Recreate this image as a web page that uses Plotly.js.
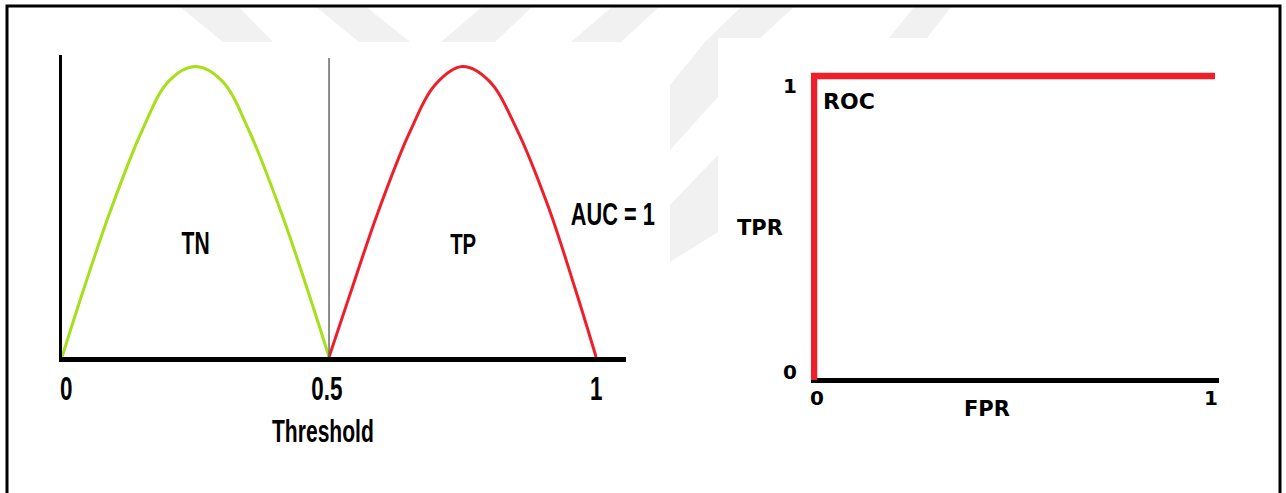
<!DOCTYPE html>
<html>
<head>
<meta charset="utf-8">
<script src="https://cdn.plot.ly/plotly-3.0.1.min.js"></script>
<style>
  html, body { margin: 0; padding: 0; background: #ffffff; }
  #chart { width: 1286px; height: 493px; }
</style>
</head>
<body>
<div id="chart"></div>
<script>
// Score distributions on the threshold axis
const tnX = [0, 0.04, 0.09, 0.15, 0.20, 0.25, 0.30, 0.35, 0.41, 0.46, 0.5];
const tnY = [0, 0.23, 0.50, 0.78, 0.95, 1.0, 0.95, 0.78, 0.50, 0.23, 0];
const tpX = [0.5, 0.54, 0.59, 0.65, 0.70, 0.75, 0.80, 0.85, 0.91, 0.96, 1.0];
const tpY = [0, 0.22, 0.49, 0.77, 0.94, 1.0, 0.95, 0.79, 0.52, 0.24, 0];
const thresholdCut = 0.5;
const thresholdTicks = [0, 0.5, 1];
const thresholdTickText = ['0', '0.5', '1'];

// Perfect ROC curve
const fpr = [0, 0, 1];
const tpr = [0, 1, 1];
const rocTicks = [0, 1];
const aucValue = 1;

const W = 1286, H = 493;
const px = v => v / W;
const py = v => 1 - v / H;

const tall = 'Liberation Sans, Arial, sans-serif';
const wide = 'DejaVu Sans, Verdana, sans-serif';
const GREEN = '#a6e01c';
const RED = '#ee1f2b';
const SQUEEZE = 0.68;   // horizontal squeeze for the condensed labels

// light diagonal background bands
function band(points) {
  return {
    type: 'path', xref: 'paper', yref: 'paper', layer: 'below',
    path: 'M' + points.map(p => px(p[0]) + ',' + py(p[1])).join(' L') + ' Z',
    fillcolor: '#f1f1f1', line: { width: 0 }
  };
}
const bands = [
  band([[179, 6], [238, 6], [273, 42], [223, 42]]),
  band([[315, 6], [365, 6], [410, 42], [359, 42]]),
  band([[483, 6], [533, 6], [495, 42], [441, 42]]),
  band([[613, 6], [660, 6], [621, 42], [571, 42]]),
  band([[742, 6], [795, 6], [760, 38], [718, 38], [718, 42], [705, 42]]),
  band([[915, 6], [952, 6], [927, 38], [889, 38]]),
  band([[670, 85], [705, 42], [718, 42], [718, 97], [670, 150]]),
  band([[670, 205], [718, 155], [718, 232], [670, 262]])
];

const traces = [
  { x: tnX, y: tnY, xaxis: 'x', yaxis: 'y', mode: 'lines',
    line: { color: GREEN, width: 3, shape: 'spline', smoothing: 1 }, hoverinfo: 'skip' },
  { x: tpX, y: tpY, xaxis: 'x', yaxis: 'y', mode: 'lines',
    line: { color: RED, width: 3, shape: 'spline', smoothing: 1 }, hoverinfo: 'skip' },
  { x: [thresholdCut, thresholdCut], y: [0, 1.03], xaxis: 'x', yaxis: 'y', mode: 'lines',
    line: { color: '#666666', width: 1.5 }, hoverinfo: 'skip' },
  { x: fpr, y: tpr, xaxis: 'x2', yaxis: 'y2', mode: 'lines',
    line: { color: RED, width: 6.5 }, hoverinfo: 'skip' }
];

const annotations = [];
const squeezed = [];
function label(text, x, y, xref, yref, size, family, extra) {
  if (family === tall) squeezed.push(annotations.length);
  annotations.push(Object.assign({
    text: '<b>' + text + '</b>', x: x, y: y, xref: xref, yref: yref,
    showarrow: false, xanchor: 'center', yanchor: 'middle',
    font: { family: family, size: size, color: '#000000' }
  }, extra || {}));
}

// threshold axis labels
thresholdTicks.forEach((t, i) => {
  label(thresholdTickText[i], t, py(388), 'x', 'paper', 33, tall, { xshift: i === 0 ? 4 : (i === 1 ? -2 : 0) });
});
label('Threshold', px(323), py(431), 'paper', 'paper', 31, tall);
label('TN', 0.25, 0.39, 'x', 'y', 31, tall);
label('TP', 0.75, 0.39, 'x', 'y', 30, tall);
label('AUC = ' + aucValue, px(613), py(214), 'paper', 'paper', 32, tall);

// ROC axis labels
rocTicks.forEach(t => {
  label(String(t), px(790), t, 'paper', 'y2', 20, wide, { yshift: t === 1 ? -10 : 8 });
  label(String(t), t, py(398), 'x2', 'paper', 20, wide, { xshift: t === 0 ? 3 : -4 });
});
label('FPR', px(987), py(409), 'paper', 'paper', 21, wide);
label('TPR', px(760), py(228), 'paper', 'paper', 21, wide);
label('ROC', px(849), py(101), 'paper', 'paper', 22, wide);

const layout = {
  width: W, height: H,
  margin: { l: 0, r: 0, t: 0, b: 0 },
  paper_bgcolor: '#ffffff', plot_bgcolor: 'rgba(0,0,0,0)',
  showlegend: false,
  xaxis: {
    domain: [px(62), px(626)], range: [0, 1.056], anchor: 'y',
    showline: true, linecolor: '#000000', linewidth: 5,
    showgrid: false, zeroline: false, showticklabels: false, ticks: ''
  },
  yaxis: {
    domain: [py(357), py(55)], range: [0, 1.04], anchor: 'x',
    showline: true, linecolor: '#000000', linewidth: 3,
    showgrid: false, zeroline: false, showticklabels: false, ticks: ''
  },
  xaxis2: {
    domain: [px(811), px(1219)], range: [-0.0075, 1.01], anchor: 'y2',
    showline: false, showgrid: false, zeroline: false, showticklabels: false, ticks: ''
  },
  yaxis2: {
    domain: [py(388), py(70)], range: [-0.0263, 1.0197], anchor: 'x2',
    showline: false, showgrid: false, showticklabels: false, ticks: '',
    zeroline: true, zerolinecolor: '#000000', zerolinewidth: 5
  },
  shapes: bands.concat([
    { type: 'rect', xref: 'paper', yref: 'paper',
      x0: px(7), x1: px(1280), y0: -0.2, y1: py(6),
      line: { color: '#000000', width: 3 }, fillcolor: 'rgba(0,0,0,0)' }
  ]),
  annotations: annotations
};

Plotly.newPlot('chart', traces, layout, { staticPlot: true, displayModeBar: false }).then(gd => {
  // narrow the condensed-style labels around their own centres
  gd.querySelectorAll('.annotation').forEach(g => {
    const idx = Number(g.getAttribute('data-index'));
    if (squeezed.indexOf(idx) < 0) return;
    const t = g.querySelector('text.annotation-text');
    if (!t) return;
    const b = t.getBBox();
    const cx = b.x + b.width / 2, cy = b.y + b.height / 2;
    t.setAttribute('transform',
      'translate(' + cx + ',' + cy + ') scale(' + SQUEEZE + ',1) translate(' + (-cx) + ',' + (-cy) + ')');
  });
});
</script>
</body>
</html>
